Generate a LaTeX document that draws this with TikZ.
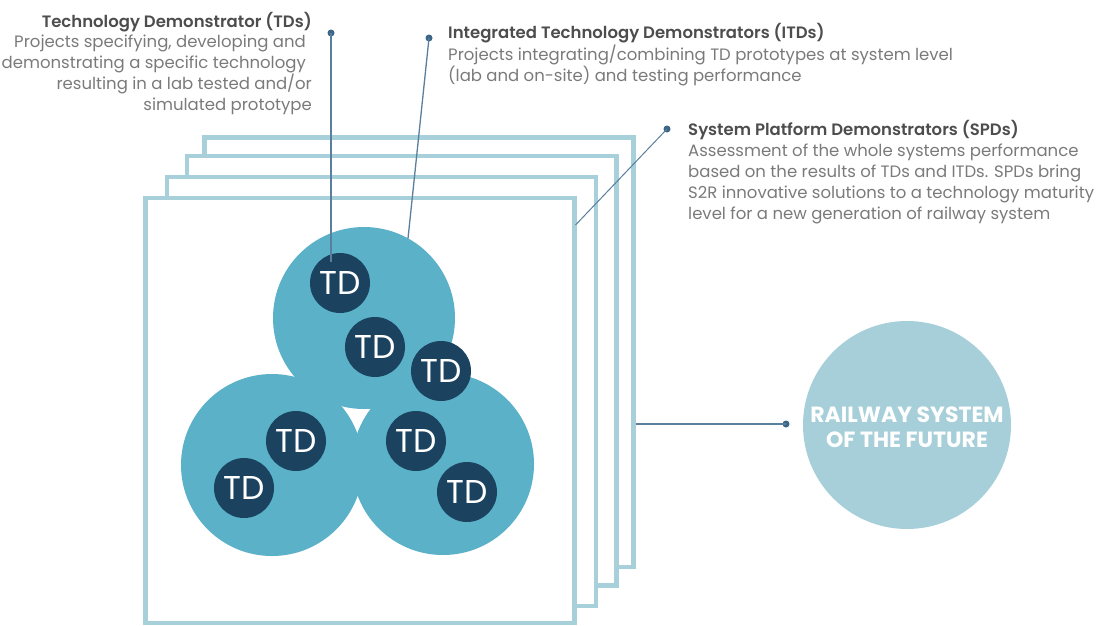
\documentclass[tikz,border=0pt]{standalone}
\usepackage{fontspec}
\setmainfont{Poppins}
\newfontfamily\semibfont{Poppins SemiBold}
\definecolor{framec}{HTML}{A8D0DA}
\definecolor{bigc}{HTML}{5AB1C8}
\definecolor{tdc}{HTML}{1B4360}
\definecolor{railc}{HTML}{A7CFD9}
\definecolor{leadc}{HTML}{5A7F9C}
\definecolor{dotcol}{HTML}{3B6688}
\definecolor{titlec}{HTML}{4D4D4D}
\definecolor{bodyc}{HTML}{7A7A7A}
\begin{document}
\begin{tikzpicture}[x=1pt,y=-1pt,
  frame/.style={draw=framec, line width=4.5pt, fill=white},
  big/.style={circle, fill=bigc, minimum size=182pt, inner sep=0pt},
  tdn/.style={circle, fill=tdc, minimum size=60pt, inner sep=0pt, text=white, font=\fontsize{33}{33}\selectfont},
  leader/.style={draw=leadc, line width=1.3pt},
  dotn/.style={circle, fill=dotcol, minimum size=7pt, inner sep=0pt},
  titletxt/.style={text=titlec, font=\semibfont\fontsize{16.5}{21}\selectfont, inner sep=0pt},
  bodytxt/.style={text=bodyc, font=\fontsize{16.5}{21}\selectfont, inner sep=0pt}]
\useasboundingbox (0,0) rectangle (1106,625);
\clip (0,0) rectangle (1106,625);
% stacked frames
\draw[frame] (204.5,137.7) rectangle (633.3,567);
\draw[frame] (187,156) rectangle (616.5,585.5);
\draw[frame] (167,177) rectangle (596,606);
\draw[frame] (145.5,198) rectangle (574.7,623);
\coordinate (f4r) at (635.5,424);
\coordinate (f1r) at (575.5,225);
% big circles
\node[big] (bl) at (272,465) {};
\node[big] (br) at (443,464) {};
\node[big] (tp) at (364,318) {};
% TD circles
\node[tdn] (td1) at (340,283) {TD};
\node[tdn] (td2) at (375,347) {TD};
\node[tdn] (td3) at (441,371) {TD};
\node[tdn] (td4) at (296,441) {TD};
\node[tdn] (td5) at (244,488) {TD};
\node[tdn] (td6) at (416,441) {TD};
\node[tdn] (td7) at (467,492) {TD};
% railway circle
\node[circle, fill=railc, minimum size=208pt, inner sep=0pt] (rail) at (907,425) {};
\node[text=white, font=\fontsize{22}{25}\selectfont\bfseries, align=center, inner sep=0pt, anchor=base] (railtxt) at (907,447) {RAILWAY SYSTEM\\OF THE FUTURE};
% leader dots
\node[dotn] (d1) at (331,33) {};
\node[dotn] (d2) at (429,38) {};
\node[dotn] (d3) at (667,129) {};
\node[dotn] (d4) at (786,424) {};
\coordinate (e1) at (331,262);
\coordinate (e2) at (408,238.5);
% leaders
\draw[leader] (d1.center) -- (e1);
\draw[leader] (d2.center) -- (e2);
\draw[leader, line width=1pt] (d3.center) -- (f1r);
\draw[leader] (f4r) -- (d4.center);
% texts (multi-line nodes anchored at last baseline)
\node[titletxt, anchor=base east] (t1) at (312,27) {Technology Demonstrator (TDs)};
\node[bodytxt, align=right, anchor=base east] (b1) at (312,110) {Projects specifying, developing and\kern6pt\\demonstrating a specific technology\kern6pt\\resulting in a lab tested and/or\\simulated prototype};
\node[titletxt, anchor=base west] (t2) at (448,38) {Integrated Technology Demonstrators (ITDs)};
\node[bodytxt, align=left, anchor=base west] (b2) at (448,81) {Projects integrating/combining TD prototypes at system level\\(lab and on-site) and testing performance};
\node[titletxt, anchor=base west] (t3) at (688,135) {System Platform Demonstrators (SPDs)};
\node[bodytxt, align=left, anchor=base west] (b3) at (688,219) {Assessment of the whole systems performance\\based on the results of TDs and ITDs. SPDs bring\\S2R innovative solutions to a technology maturity\\level for a new generation of railway system};
\end{tikzpicture}
\end{document}
